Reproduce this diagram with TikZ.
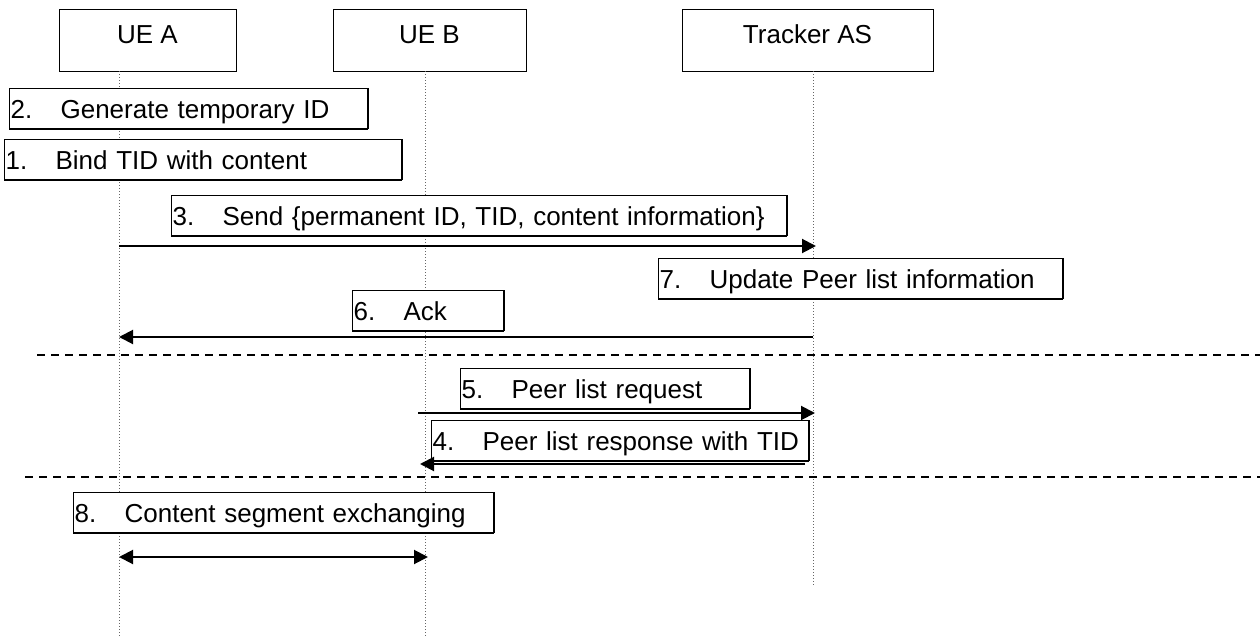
\documentclass[tikz,border=0pt]{standalone}
\usepackage{fontspec}
\setmainfont{Liberation Sans}
\usetikzlibrary{arrows.meta}
\begin{document}
\begin{tikzpicture}[x=0.5pt,y=-0.5pt,
  every node/.style={font=\fontsize{13pt}{15pt}\selectfont},
  actor/.style={draw, line width=0.5pt, fill=white, inner sep=0pt,
    minimum height=31pt, text height=10pt, text depth=7pt},
  lifeline/.style={densely dotted, line width=0.5pt, black!60},
  stepnote/.style={draw, line width=0.6pt, fill=white, anchor=north west,
    inner xsep=0.5pt, inner ysep=0pt, minimum height=20pt,
    text height=10pt, text depth=0pt, align=left, text width=#1,
    append after command={
      (\tikzlastnode.north east) edge[line width=1pt] (\tikzlastnode.south east)
      (\tikzlastnode.south east) edge[line width=1pt] (\tikzlastnode.south west)}},
  msg/.style={line width=1pt, -{Triangle[length=7pt,width=7pt]}},
  bimsg/.style={line width=1pt, {Triangle[length=7pt,width=7pt]}-{Triangle[length=7pt,width=7pt]}},
  phase/.style={line width=0.7pt, dash pattern=on 4pt off 3pt}]
\useasboundingbox (0,0) rectangle (1260,637);

% participants
\node[actor, minimum width=88.5pt]  (ueA) at (147.5,40) {UE A};
\node[actor, minimum width=96.5pt]  (ueB) at (429.5,40) {UE B};
\node[actor, minimum width=125.5pt] (tas) at (807.5,40) {Tracker AS};

% lifelines
\coordinate (ueAtop) at (119,71);  \coordinate (ueAend) at (119,637);
\coordinate (ueBtop) at (425,71);  \coordinate (ueBend) at (425,637);
\coordinate (tastop) at (813,71);  \coordinate (tasend) at (813,585);
\draw[lifeline] (ueAtop) -- (ueAend);
\draw[lifeline] (ueBtop) -- (ueBend);
\draw[lifeline] (tastop) -- (tasend);

% local steps at UE A
\node[stepnote=178pt] (s2) at (9,88)
  {\makebox[25pt][l]{2.}Generate temporary ID};
\node[stepnote=197.5pt] (s1) at (4,139)
  {\makebox[25pt][l]{1.}Bind TID with content};

% registration with the tracker
\node[stepnote=306.5pt] (s3) at (171,195)
  {\makebox[25pt][l]{3.}Send \{permanent ID, TID, content information\}};
\coordinate (m3a) at (119,246); \coordinate (m3b) at (816,246);
\draw[msg] (m3a) -- (m3b);

\node[stepnote=201pt] (s7) at (658,258)
  {\makebox[25pt][l]{7.}Update Peer list information};

\node[stepnote=74.5pt] (s6) at (352,290)
  {\makebox[25pt][l]{6.}Ack};
\coordinate (m6a) at (813,337); \coordinate (m6b) at (119,337);
\draw[msg] (m6a) -- (m6b);

% phase separator
\coordinate (d1a) at (37,355); \coordinate (d1b) at (1260,355);
\draw[phase] (d1a) -- (d1b);

% peer list query
\node[stepnote=143.5pt] (s5) at (460,368)
  {\makebox[25pt][l]{5.}Peer list request};
\coordinate (m5a) at (418,413); \coordinate (m5b) at (815,413);
\draw[msg] (m5a) -- (m5b);

\node[stepnote=187.5pt] (s4) at (431,420)
  {\makebox[25pt][l]{4.}Peer list response with TID};
\coordinate (m4a) at (805,464); \coordinate (m4b) at (420,464);
\draw[msg] (m4a) -- (m4b);

% phase separator
\coordinate (d2a) at (25,477); \coordinate (d2b) at (1260,477);
\draw[phase] (d2a) -- (d2b);

% content exchange between peers
\node[stepnote=209pt] (s8) at (73,492)
  {\makebox[25pt][l]{8.}Content segment exchanging};
\coordinate (m8a) at (119,557); \coordinate (m8b) at (428,557);
\draw[bimsg] (m8a) -- (m8b);
\end{tikzpicture}
\end{document}
